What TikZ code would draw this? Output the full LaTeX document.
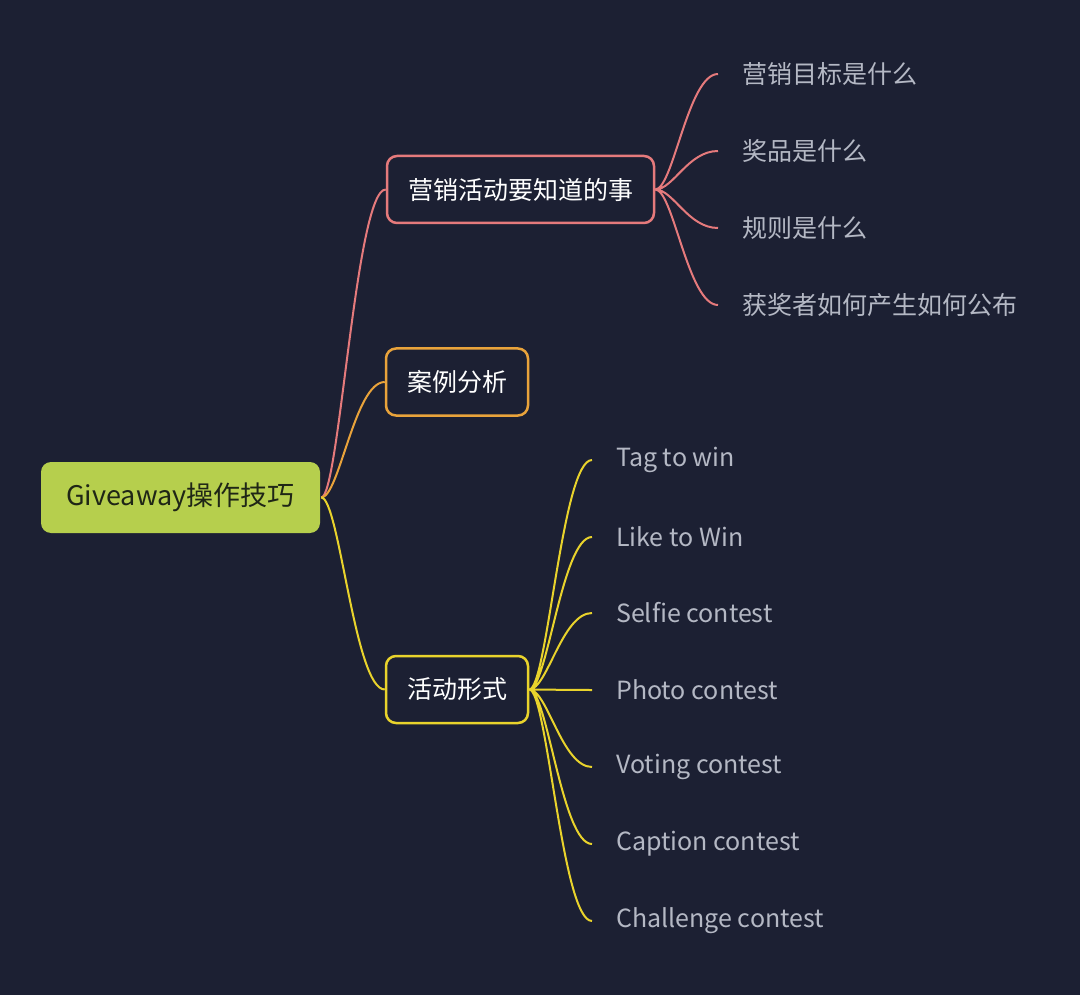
\documentclass[tikz,border=0pt]{standalone}
\usepackage{fontspec}
\setmainfont{Noto Sans CJK SC}
\usetikzlibrary{calc,
							positioning}
\definecolor{bgnavy}{HTML}{1C2033}
\definecolor{rootgreen}{HTML}{B6CF4D}
\definecolor{roottext}{HTML}{1F2616}
\definecolor{linered}{HTML}{E57A7C}
\definecolor{lineorange}{HTML}{E9A33B}
\definecolor{lineyellow}{HTML}{E9D32C}
\definecolor{leafgrey}{HTML}{B4B8C4}

\begin{document}
\begin{tikzpicture}[x=1pt, y=-1pt,
		 base/.style = {draw, rectangle, rounded corners=10pt, line width=2.5pt,
									 minimum height=67pt, inner xsep=21pt, text=white,
									 font=\fontsize{25}{30}\selectfont},
		 root/.style = {base, draw=none, fill=rootgreen, text=roottext,
									 minimum height=71pt, minimum width=279pt,
									 font=\fontsize{27}{32}\selectfont},
		 topic/.style = {base},
		 leaf/.style = {anchor=west, inner xsep=24pt, inner ysep=2pt, text=leafgrey,
									 font=\fontsize{25}{30}\selectfont},
	 branch/.style = {line width=2pt,
									 to path={.. controls ($(\tikztostart)+(18,0)$)
									 and ($(\tikztotarget)+(-30,0)$) .. (\tikztotarget)}}
]
\useasboundingbox [fill=bgnavy] (0,0) rectangle (1080,995);

\node (root) [root]                        at (180.5,497.5) {Giveaway操作技巧};
\node (mkt)  [topic, draw=linered]         at (520.5,189.5) {营销活动要知道的事};
\node (case) [topic, draw=lineorange]      at (457,382)     {案例分析};
\node (form) [topic, draw=lineyellow]      at (457,689.5)   {活动形式};

% leaves of mkt
\node (m-1) [leaf] at (718,74)  {营销目标是什么};
\node (m-2) [leaf] at (718,151) {奖品是什么};
\node (m-3) [leaf] at (718,228) {规则是什么};
\node (m-4) [leaf] at (718,305) {获奖者如何产生如何公布};

% leaves of form
\node (f-1) [leaf] at (592,460) {Tag to win};
\node (f-2) [leaf] at (592,537) {Like to Win};
\node (f-3) [leaf] at (592,613) {Selfie contest};
\node (f-4) [leaf] at (592,690) {Photo contest};
\node (f-5) [leaf] at (592,767) {Voting contest};
\node (f-6) [leaf] at (592,844) {Caption contest};
\node (f-7) [leaf] at (592,921) {Challenge contest};

%%
\draw [branch, draw=linered]
	(root.east) to (mkt.west)
	(mkt.east) to (m-1.west)
	(mkt.east) to (m-2.west)
	(mkt.east) to (m-3.west)
	(mkt.east) to (m-4.west)
	;
\draw [branch, draw=lineorange] (root.east) to (case.west);
\draw [branch, draw=lineyellow]
	(root.east) to (form.west)
	(form.east) to (f-1.west)
	(form.east) to (f-2.west)
	(form.east) to (f-3.west)
	(form.east) to (f-4.west)
	(form.east) to (f-5.west)
	(form.east) to (f-6.west)
	(form.east) to (f-7.west)
	;
\end{tikzpicture}
\end{document}
